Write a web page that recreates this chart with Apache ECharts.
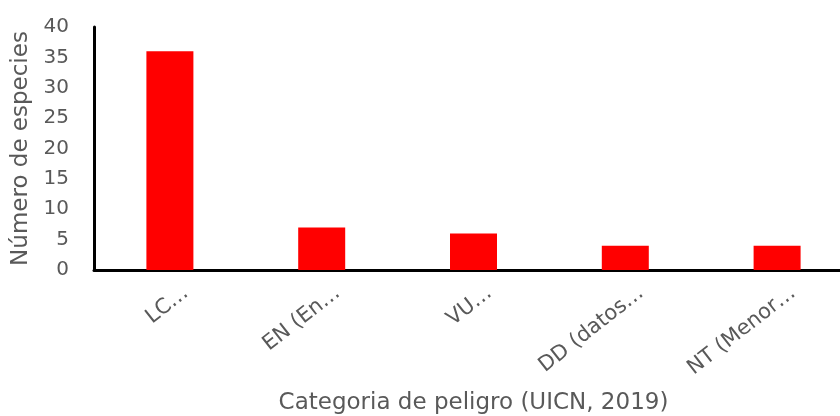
<!DOCTYPE html>
<html>
<head>
<meta charset="utf-8">
<script src="https://cdn.jsdelivr.net/npm/echarts@6/dist/echarts.min.js"></script>
<style>
  html, body { margin: 0; padding: 0; background: #fff; overflow: hidden; }
  /* the plot runs past the right edge of the window, as in the original */
  #chart { width: 860px; height: 416px; }
</style>
</head>
<body>
<div id="chart"></div>
<script>
var categories = ['LC…', 'EN (En…', 'VU…', 'DD (datos…', 'NT (Menor…']
var especies = [36, 7, 6, 4, 4]
var yTicks = [0, 5, 10, 15, 20, 25, 30, 35, 40]

var labelColor = '#595959'
var fontFam = '"DejaVu Sans", Verdana, sans-serif'

var chart = echarts.init(document.getElementById('chart'))
chart.setOption({
  animation: false,
  grid: {
    left: 94,
    top: 27,
    width: 759,
    height: 243,
    outerBoundsMode: 'none'
  },
  xAxis: {
    type: 'category',
    data: categories,
    name: 'Categoria de peligro (UICN, 2019)',
    nameLocation: 'middle',
    nameGap: 122,
    nameMoveOverlap: false,
    nameTextStyle: { color: labelColor, fontSize: 23, fontFamily: fontFam },
    axisLine: { lineStyle: { color: '#000', width: 3 } },
    axisTick: { show: false },
    axisLabel: {
      rotate: 38,
      margin: 0,
      verticalAlign: 'top',
      lineHeight: 52,   // pushes the rotated labels down/right like Excel does
      color: labelColor,
      fontSize: 21,
      fontFamily: fontFam
    }
  },
  yAxis: {
    type: 'value',
    min: yTicks[0],
    max: yTicks[yTicks.length - 1],
    interval: 5,
    name: 'Número de especies',
    nameLocation: 'middle',
    nameGap: 61,
    nameMoveOverlap: false,
    nameTextStyle: { color: labelColor, fontSize: 23, fontFamily: fontFam },
    axisLine: { show: true, lineStyle: { color: '#000', width: 3 } },
    axisTick: { show: false },
    splitLine: { show: false },
    axisLabel: {
      margin: 25,
      color: labelColor,
      fontSize: 20,
      fontFamily: fontFam
    }
  },
  series: [{
    type: 'bar',
    data: especies,
    barWidth: 47,
    itemStyle: { color: '#ff0000' }
  }]
})
</script>
</body>
</html>
